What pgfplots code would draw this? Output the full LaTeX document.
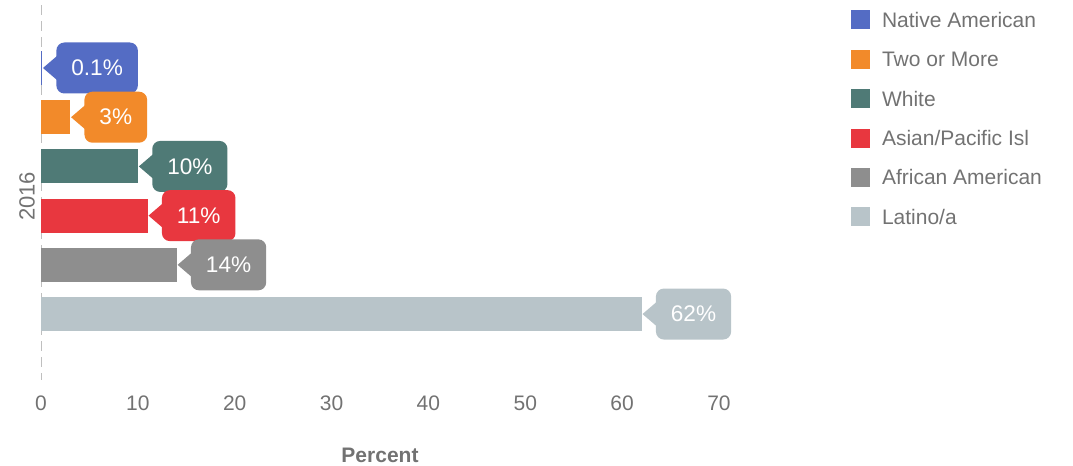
\documentclass[border=0pt]{standalone}
\usepackage{fontspec}
\setmainfont{Liberation Sans}
\usepackage{pgfplots}
\pgfplotsset{compat=1.18}

\definecolor{cNA}{HTML}{546CC4}
\definecolor{cTwo}{HTML}{F28A2A}
\definecolor{cWhite}{HTML}{4F7A76}
\definecolor{cAsian}{HTML}{E8373F}
\definecolor{cAfr}{HTML}{8E8E8E}
\definecolor{cLat}{HTML}{B8C4C9}
\definecolor{txt}{HTML}{727272}
\definecolor{title}{HTML}{8B1D2C}

% value label: rounded box with a small pointer towards the bar end
\tikzset{callout/.style={fill=#1, text=white, rounded corners=4pt,
    inner xsep=7.5pt, inner ysep=0pt, minimum height=25.5pt,
    anchor=west, xshift=7pt, font=\fontsize{11.3}{13}\selectfont,
    append after command={\pgfextra{\fill[#1, sharp corners]
      ([xshift=0.5pt,yshift=6pt]\tikzlastnode.west) -- ++(-7pt,-6pt)
      -- ++(7pt,-6pt) -- cycle;}}}}

\pgfplotsset{bars/.style={fill=#1, draw=none, bar shift=0pt,
    every node near coord/.append style={callout=#1}}}

\begin{document}
\begin{tikzpicture}
\begin{axis}[
    at={(0,0)}, anchor=south west,
    scale only axis, width=339pt, height=187.5pt,
    xmin=0, xmax=70, ymin=-1.28, ymax=6.34, y dir=reverse,
    xbar, bar width=17pt, bar shift=0pt,
    clip=false,
    axis lines*=left,
    x axis line style={draw=none},
    y axis line style={draw=gray!50, dash pattern=on 5pt off 3pt},
    major tick length=0pt,
    xtick={0,10,...,70}, ytick=\empty,
    /pgf/number format/assume math mode=true,
    xticklabel style={anchor=center, yshift=-11.5pt, text=txt,
        font=\fontsize{10.5}{12}\selectfont},
    xlabel={\bfseries Percent},
    xlabel style={at={(axis description cs:0.5,-0.2)}, anchor=center,
        text=txt, font=\fontsize{10.5}{12}\selectfont},
    ylabel={2016},
    ylabel style={at={(axis description cs:-0.0206,0.49)}, anchor=center,
        text=txt, font=\fontsize{11}{13}\selectfont},
    point meta=x,
    nodes near coords={\pgfmathprintnumber{\pgfplotspointmeta}\%},
    legend image code/.code={\fill[#1] (0pt,-1pt) rectangle (9.5pt,8.5pt);},
    legend style={at={(axis description cs:1.1947,0.9867)}, anchor=north west,
        draw=none, fill=none, inner sep=0pt, row sep=9.3pt, column sep=5.8pt,
        font=\fontsize{10.5}{12}\selectfont, text=txt,
        nodes={inner sep=0pt, text height=7.6pt, text depth=1.9pt, anchor=base west}},
    legend cell align=left,
]
\addplot[bars=cNA] coordinates {(0.1,0)};
\addplot[bars=cTwo] coordinates {(3,1)};
\addplot[bars=cWhite] coordinates {(10,2)};
\addplot[bars=cAsian] coordinates {(11,3)};
\addplot[bars=cAfr] coordinates {(14,4)};
\addplot[bars=cLat] coordinates {(62,5)};
\legend{Native American, Two or More, White, Asian/Pacific Isl, African American, Latino/a}
\end{axis}
% bottoms of the cut-off title's brackets
\draw[title, line width=2pt, line cap=round] (34.6,190.5) to[bend right=20] (36.8,187.6);
\draw[title, line width=2pt, line cap=round] (133.6,190.5) to[bend left=20] (131.2,187.6);
\pgfresetboundingbox
\useasboundingbox (-20.5pt,-43pt) rectangle (516pt,190pt);
\end{tikzpicture}
\end{document}
